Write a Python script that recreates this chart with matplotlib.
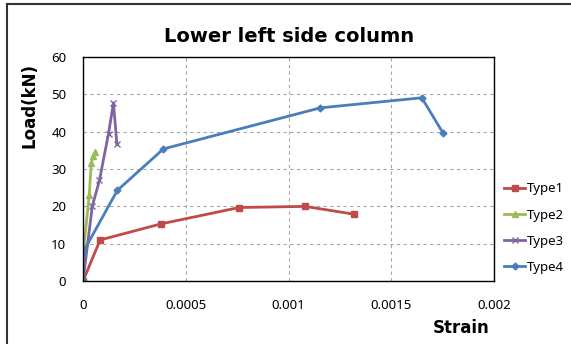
import matplotlib.pyplot as plt
from matplotlib.lines import Line2D

# strain / load values
t1_x = [0, 0.000083, 0.000378, 0.00076, 0.00108, 0.00132]
t1_y = [0, 11.0, 15.3, 19.7, 20.0, 17.9]

t2_x = [0, 0.000005, 0.00003, 0.00004, 0.00005, 0.00006]
t2_y = [0, 9.5, 23.0, 31.5, 33.5, 34.6]

t3_x = [0, 0.000045, 0.000080, 0.000124, 0.000148, 0.000165]
t3_y = [0, 20.0, 27.0, 39.5, 47.7, 36.6]

t4_x = [0, 0, 0.000167, 0.000391, 0.001154, 0.001648, 0.001752]
t4_y = [0, 7.7, 24.3, 35.4, 46.4, 49.1, 39.6]

xticks = [0, 0.0005, 0.001, 0.0015, 0.002]
xtick_labels = ['0', '0.0005', '0.001', '0.0015', '0.002']
yticks = [0, 10, 20, 30, 40, 50, 60]

plt.rcParams['font.family'] = ['Noto Sans', 'DejaVu Sans']

fig = plt.figure(figsize=(5.71, 3.44), dpi=100)
ax = fig.add_axes([0.1454, 0.183, 0.72, 0.651])

ax.plot(t1_x, t1_y, color='#BE4B48', lw=2, marker='s', ms=5, label='Type1')
ax.plot(t2_x, t2_y, color='#9BBB59', lw=2, marker='^', ms=5, label='Type2')
ax.plot(t3_x, t3_y, color='#8064A2', lw=2, marker='x', ms=5, mew=1, label='Type3')
ax.plot(t4_x, t4_y, color='#4A7EBB', lw=2, marker='D', ms=3.5, label='Type4')

ax.set_xlim(0, 0.002)
ax.set_ylim(0, 60)
ax.set_xticks(xticks)
ax.set_xticklabels(xtick_labels)
ax.set_yticks(yticks)
ax.tick_params(length=0, labelsize=9.5)
ax.tick_params(axis='x', pad=13)
ax.tick_params(axis='y', pad=12)
ax.grid(True, color='#a6a6a6', linestyle=(0, (3, 3)), lw=0.8)
for s in ax.spines.values():
    s.set_color('black')
    s.set_linewidth(1)

bold = dict(family='DejaVu Sans', fontweight='bold')
ax.set_title('Lower left side column', fontsize=14, pad=11, **bold)
ax.set_xlabel('Strain', fontsize=12, **bold)
ax.xaxis.set_label_coords(0.92, -0.17)
ax.set_ylabel('Load(kN)', fontsize=12, **bold)
ax.yaxis.set_label_coords(-0.108, 0.785)

ax.legend(loc='center left', bbox_to_anchor=(0.995, 0.236), frameon=False,
          fontsize=9.5, handlelength=1.6, handletextpad=0.1, labelspacing=1.0)

# outer chart border (top and left edges visible)
fig.add_artist(Line2D([0.013, 1], [0.987, 0.987], transform=fig.transFigure, color='#333333', lw=1.5))
fig.add_artist(Line2D([0.013, 0.013], [0, 0.987], transform=fig.transFigure, color='#333333', lw=1.5))

fig.savefig('out.png', dpi=100)
